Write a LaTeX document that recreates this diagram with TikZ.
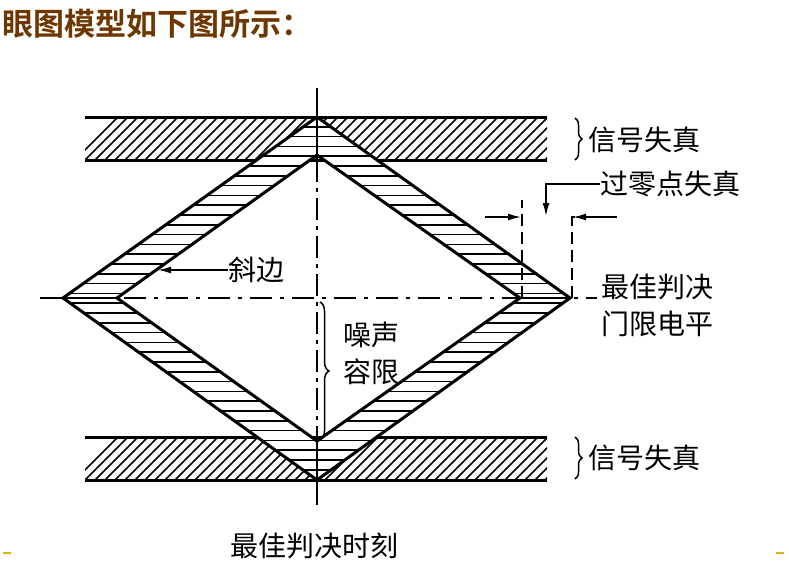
\documentclass[tikz,border=0pt]{standalone}
\usepackage{fontspec}
\setmainfont{Noto Sans CJK SC}
\newfontfamily\titlefont{Noto Sans CJK SC Bold}
\usetikzlibrary{decorations.pathreplacing,arrows.meta}
\definecolor{titlebrown}{RGB}{110,55,0}
\definecolor{gold}{RGB}{220,180,0}
\begin{document}
\begin{tikzpicture}[x=1pt,y=-1pt,
  thick line/.style={line width=3pt},
  lbl/.style={font=\fontsize{28}{30}\selectfont,inner sep=0pt,anchor=west},
  arr/.style={-{Latex[length=13pt,width=7pt]},line width=1.6pt}]
\useasboundingbox (0,0) rectangle (789,582);
\node[anchor=west,inner sep=0pt,text=titlebrown,font=\titlefont\fontsize{31}{33}\selectfont] (title) at (2,24) {眼图模型如下图所示：};
% bars with diagonal hatching
\foreach \ya/\yb in {117/160,437/480}{
  \begin{scope}
  \clip (85,\ya) rectangle (547,\yb);
  \foreach \k in {0,...,56} \draw[line width=1.5pt] (85+\k*10-10,\yb) -- ++(45,-45);
  \end{scope}
  \draw[thick line] (85,\ya) -- (547,\ya) (85,\yb) -- (547,\yb);
}
% band
\fill[white,even odd rule] (63,298)--(317,117)--(570,298)--(317,480)--cycle (117,298)--(317,155)--(520,298)--(317,441)--cycle;
\begin{scope}[even odd rule]
\clip (63,298)--(317,117)--(570,298)--(317,480)--cycle (117,298)--(317,155)--(520,298)--(317,441)--cycle;
\foreach \k in {0,...,38} \draw[line width=1.5pt] (40,117+\k*9.8) -- (600,117+\k*9.8);
\end{scope}
\draw[thick line,line join=miter] (63,298)--(317,117)--(570,298)--(317,480)--cycle;
\draw[thick line,line join=miter] (117,298)--(317,155)--(520,298)--(317,441)--cycle;
\draw[line width=2pt] (63,298) -- (117,298) (520,298) -- (570,298);
% axes
\draw[line width=1.5pt] (317,88) -- (317,160);
\draw[line width=1.5pt,dash pattern=on 22pt off 6pt on 4pt off 6pt] (317,160) -- (317,437);
\draw[line width=1.5pt] (317,437) -- (317,505);
\draw[line width=1.5pt,dash pattern=on 22pt off 8pt on 4pt off 8pt] (40,298) -- (597,298);
% zero crossing
\draw[line width=1.6pt,dash pattern=on 12pt off 6pt] (522,298) -- (522,200);
\draw[line width=1.6pt,dash pattern=on 12pt off 6pt] (572,298) -- (572,217) -- (580,217);
\coordinate (la) at (485,217); \coordinate (lb) at (521,217);
\coordinate (ra) at (617,217); \coordinate (rb) at (573,217);
\draw[arr] (la) -- (lb);
\draw[arr] (ra) -- (rb);
\node[lbl] (zc) at (600,184) {过零点失真};
\coordinate (zk) at (546,184);
\coordinate (zt) at (546,216);
\draw[arr] (zc.west) -- (zk) -- (zt);
% slope
\node[lbl] (xb) at (228,270) {斜边};
\coordinate (xp) at (158,270);
\draw[arr] (xb.west) -- (xp);
% braces
\draw[line width=1.5pt,decorate,decoration={brace,amplitude=7pt}] (575,118) -- (575,160);
\draw[line width=1.5pt,decorate,decoration={brace,amplitude=7pt}] (575,437) -- (575,479);
\draw[line width=1.5pt,decorate,decoration={brace,amplitude=9pt}] (320,302) -- (320,440);
\node[lbl] (s1) at (588,140) {信号失真};
\node[lbl] (s2) at (588,458) {信号失真};
\node[lbl] (n1) at (343,335) {噪声};
\node[lbl] (n2) at (343,372) {容限};
\node[lbl] (d1) at (601,287) {最佳判决};
\node[lbl] (d2) at (601,324) {门限电平};
\node[lbl] (t) at (230,546) {最佳判决时刻};
\draw[line width=1.5pt,gold] (3,553) -- (11,553) (776,553) -- (784,553);
\end{tikzpicture}
\end{document}
